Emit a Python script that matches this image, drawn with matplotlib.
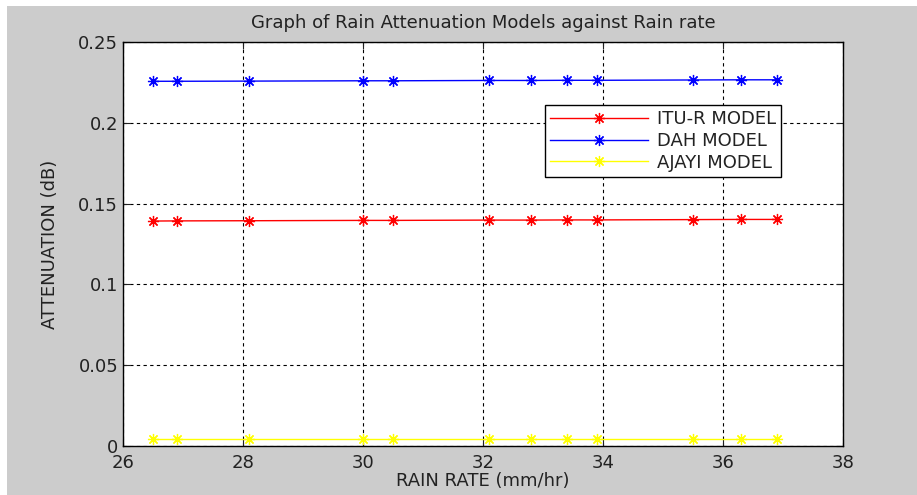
import numpy as np
import matplotlib.pyplot as plt
from matplotlib.patches import Rectangle

# rain rate (mm/hr)
rain_rate = [26.5, 26.9, 28.1, 30.0, 30.5, 32.1, 32.8, 33.4, 33.9, 35.5, 36.3, 36.9]

# attenuation (dB) for each model
itu_r = [0.1392, 0.1393, 0.1394, 0.1396, 0.1396, 0.1398, 0.1398, 0.1399, 0.1399, 0.1401, 0.1402, 0.1402]
dah = [0.2257, 0.2257, 0.2258, 0.2260, 0.2260, 0.2262, 0.2262, 0.2263, 0.2263, 0.2265, 0.2266, 0.2266]
ajayi = [0.0043, 0.0043, 0.0043, 0.0043, 0.0043, 0.0043, 0.0043, 0.0043, 0.0043, 0.0043, 0.0043, 0.0043]

plt.rcParams['font.family'] = ['DejaVu Sans']

fig = plt.figure(figsize=(9.17, 4.95), dpi=100)
fig.patch.set_facecolor('#cccccc')
# white strips at top and left edge of the screenshot
fig.patches.append(Rectangle((0, 1 - 6 / 495), 1, 6 / 495, transform=fig.transFigure,
                             facecolor='white', edgecolor='none', zorder=-1))
fig.patches.append(Rectangle((0, 0), 7 / 917, 1, transform=fig.transFigure,
                             facecolor='white', edgecolor='none', zorder=-1))

ax = fig.add_axes([123 / 917, 1 - 446 / 495, 720 / 917, 404 / 495])
ax.set_facecolor('white')

# matlab style '*' marker: 8-armed asterisk
star = (8, 2, 0)
ax.plot(rain_rate, itu_r, color='red', marker=star, markersize=8, markeredgewidth=0.9,
        linewidth=1, label='ITU-R MODEL')
ax.plot(rain_rate, dah, color='blue', marker=star, markersize=8, markeredgewidth=0.9,
        linewidth=1, label='DAH MODEL')
ax.plot(rain_rate, ajayi, color='yellow', marker=star, markersize=8, markeredgewidth=0.9,
        linewidth=1, label='AJAYI MODEL')

ax.set_xlim(26, 38)
ax.set_ylim(0, 0.25)
ax.set_xticks(np.arange(26, 39, 2))
ax.set_yticks([0, 0.05, 0.1, 0.15, 0.2, 0.25])
ax.set_yticklabels(['0', '0.05', '0.1', '0.15', '0.2', '0.25'])

ax.grid(True, color='black', linestyle=(0, (3, 3)), linewidth=0.8)
ax.tick_params(direction='in', top=True, right=True, labelsize=13, length=5, colors='#222222')
ax.tick_params(axis='x', pad=6)
for s in ax.spines.values():
    s.set_linewidth(1)
    s.set_color('black')

ax.set_title('Graph of Rain Attenuation Models against Rain rate', fontsize=13, pad=10,
             color='#222222')
ax.set_xlabel('RAIN RATE (mm/hr)', fontsize=13, labelpad=0, color='#222222')
ax.set_ylabel('ATTENUATION (dB)', fontsize=13, labelpad=14, color='#222222')

leg = ax.legend(loc='upper right', bbox_to_anchor=(0.914, 0.844), fontsize=13,
                frameon=True, fancybox=False, framealpha=1, edgecolor='black',
                handlelength=5.4, borderaxespad=0, labelspacing=0.2, borderpad=0.3,
                handletextpad=0.5)
leg.get_frame().set_linewidth(1)
for t in leg.get_texts():
    t.set_color('#222222')

fig.savefig('out.png', dpi=100, facecolor=fig.get_facecolor())
